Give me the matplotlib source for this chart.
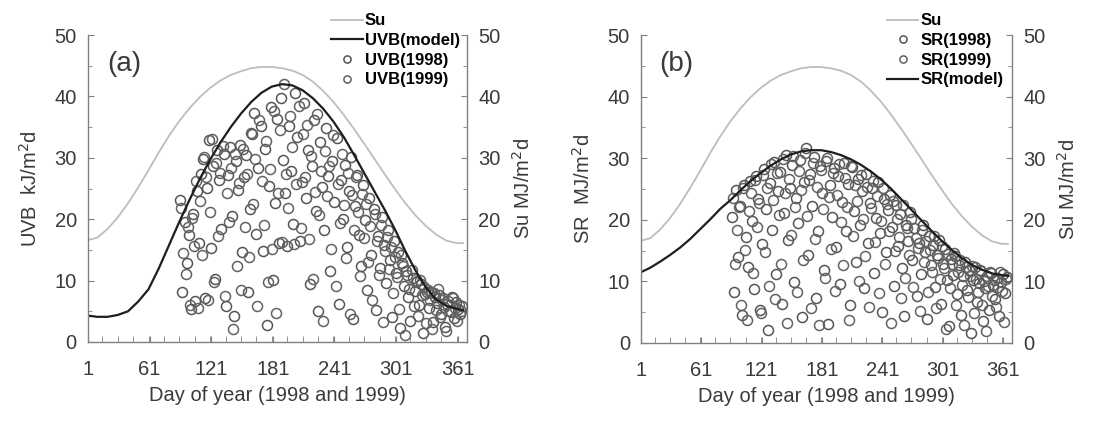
"""Daily UVB and SR against Su, 1998-1999"""
import numpy as np, matplotlib
matplotlib.use('Agg')
import matplotlib.pyplot as plt
from matplotlib.ticker import MultipleLocator
plt.rcParams.update({'font.family':['Liberation Sans','DejaVu Sans'],'font.size':13,'axes.linewidth':1.0})
BG='#FFFFFF'
INK='#3a3a3a'; SPINE='#808080'

# Su (MJ/m2d), shared by both panels
su_day=[1,10,20,30,40,50,60,70,80,90,100,110,120,130,140,150,160,170,180,190,200,210,220,230,240,250,260,270,280,290,300,310,320,330,340,350,360,366]
su_val=[16.6,17.0,18.4,20.3,22.6,25.2,28.0,30.9,33.6,36.0,38.1,39.9,41.4,42.6,43.5,44.1,44.6,44.8,44.8,44.6,44.2,43.5,42.4,40.9,39.1,37.0,34.7,32.3,29.8,27.3,24.9,22.6,20.6,18.9,17.5,16.5,16.1,16.1]

# UVB model (kJ/m2d)
uvb_mod_day=[1,10,20,30,40,50,60,70,80,90,100,110,120,130,140,150,160,170,180,190,200,210,220,230,240,250,260,270,280,290,300,310,320,330,340,350,360,366]
uvb_mod_val=[4.3,4.1,4.1,4.4,5.0,6.6,8.6,12.0,15.8,19.6,23.2,26.6,29.7,32.5,35.0,37.2,39.1,40.6,41.6,42.0,41.8,41.0,39.7,38.0,35.9,33.4,30.5,27.5,24.5,21.5,18.3,14.8,11.6,8.9,6.9,5.9,5.4,5.2]

uvb98_day=list(range(91,366,2))
uvb98=[23.1,8.1,19.5,12.8,17.5,5.4,20.8,6.6,24.6,16.2,
       27.3,29.8,7.2,25.1,32.9,15.3,28.6,10.2,31.2,26.4,
       18.4,30.7,5.8,27.2,31.8,20.5,4.3,29.4,24.8,32.1,
       14.6,26.9,30.4,8.1,21.7,33.8,37.3,17.6,28.3,35.2,
       14.8,31.5,2.8,25.4,38.2,10.1,22.6,36.4,16.1,39.7,
       29.6,24.2,15.6,35.1,27.8,19.3,40.6,33.4,16.4,26.1,
       38.9,23.5,31.2,9.4,28.7,36.2,21.4,5.1,32.6,25.3,
       18.2,34.8,27.1,11.6,29.5,22.8,33.2,6.2,26.4,20.1,
       28.9,15.4,24.6,30.1,3.8,22.1,27.2,17.5,12.3,25.6,
       19.8,8.4,23.5,14.2,21.6,5.2,17.3,12.1,20.4,15.8,
       9.6,18.2,13.4,4.1,16.5,11.2,14.6,2.3,12.8,9.1,
       11.5,7.4,3.5,10.4,8.3,9.9,6.1,9.5,1.4,7.8,
       8.2,5.6,8.1,3.2,7.3,6.4,7.6,4.5,7.1,2.4,
       6.2,5.1,7.4,3.9,6.5,5.3,4.6,5.8]
uvb99_day=list(range(92,365,2))
uvb99=[21.8,14.5,11.1,18.7,6.1,20.2,15.7,26.3,5.6,22.9,
       14.1,30.2,26.8,6.9,21.2,33.1,9.8,29.1,17.3,27.5,
       31.9,7.5,24.2,19.6,28.4,2.1,30.6,12.4,25.9,8.4,
       31.4,18.8,27.4,13.9,34.1,22.4,29.8,5.9,36.1,26.2,
       19.1,32.8,9.7,28.1,15.2,37.6,4.8,24.3,34.5,16.3,
       42.1,27.3,21.9,36.8,31.7,15.9,25.7,38.4,18.6,33.9,
       26.8,35.4,16.8,30.3,10.3,24.4,37.1,20.7,27.9,3.5,
       31.1,23.7,28.6,15.1,33.7,9.2,25.8,19.4,30.6,22.3,
       13.6,27.6,4.6,23.9,18.3,26.8,21.2,10.8,24.1,16.9,
       22.5,13.1,18.9,6.8,20.9,16.4,10.9,19.1,3.2,14.9,
       17.1,11.9,15.4,7.9,13.8,10.6,5.4,14.1,12.4,1.2,
       10.9,8.7,11.8,5.9,9.8,4.2,10.1,7.6,8.9,3.1,
       8.4,6.8,2.1,7.9,5.2,8.7,4.1,6.9,5.7,1.8,
       6.7,4.9,7.1,5.5,3.4,6.1,5.0]

# SR model (MJ/m2d)
sr_mod_day=[1,10,20,30,40,50,60,70,80,90,100,110,120,130,140,150,160,170,180,190,200,210,220,230,240,250,260,270,280,290,300,310,320,330,340,350,360,366]
sr_mod_val=[11.5,12.2,13.2,14.3,15.5,16.9,18.5,20.1,21.8,23.2,24.8,26.3,27.6,28.8,29.8,30.6,31.1,31.3,31.3,31.0,30.5,29.8,28.9,27.8,26.5,25.0,23.3,21.6,19.9,18.2,16.6,15.1,13.8,12.7,11.9,11.3,11.0,10.9]

sr98_day=list(range(91,366,2))
sr98=[20.5,8.3,24.8,13.9,22.3,4.6,25.6,17.2,12.4,26.3,
      19.8,8.8,27.1,23.4,5.4,16.1,28.2,21.7,2.1,25.9,
      18.3,29.4,11.2,24.7,27.8,6.4,21.1,30.6,16.7,25.2,
      28.9,9.9,23.6,19.4,29.7,4.2,26.1,31.6,14.3,27.5,
      22.2,30.2,7.3,18.1,28.8,24.3,11.8,29.6,3.1,25.7,
      20.4,28.4,15.6,27.1,9.5,22.9,29.3,18.2,25.8,6.2,
      28.5,21.4,13.1,26.7,19.1,24.6,8.9,27.4,16.2,22.8,
      25.2,11.4,20.3,26.1,17.9,5.1,23.3,14.7,21.6,24.1,
      18.8,9.3,22.4,15.8,20.9,12.1,4.4,19.2,16.5,21.3,
      13.4,18.6,7.6,16.3,11.2,19.1,14.8,3.9,17.4,12.6,
      15.9,9.1,14.3,16.8,6.4,12.9,15.2,10.3,2.8,13.6,
      11.1,14.2,7.9,12.7,4.6,10.8,13.1,8.6,11.9,1.6,
      10.2,12.4,6.7,9.8,11.7,3.6,8.9,10.9,5.3,11.3,
      9.4,7.2,10.6,4.3,9.9,11.2,8.1,10.7]
sr99_day=list(range(92,365,2))
sr99=[23.6,12.9,18.4,22.1,6.2,25.2,15.1,3.8,21.4,24.3,
      11.3,26.4,18.9,22.8,4.9,27.3,14.7,25.1,9.2,29.1,
      23.2,7.1,27.6,20.7,12.8,29.9,24.4,3.3,26.6,17.5,
      30.3,22.1,8.2,27.9,24.9,13.4,30.8,20.6,26.4,5.6,
      29.2,16.9,25.3,2.9,28.1,21.8,10.6,30.1,23.7,15.3,
      27.6,8.4,24.1,29.1,19.7,12.6,26.8,22.1,3.7,28.7,
      17.4,25.7,23.1,10.1,27.2,20.2,14.1,25.4,5.9,21.9,
      26.3,16.4,23.8,8.1,19.8,25.1,12.9,22.6,18.2,3.2,
      23.1,14.9,20.1,17.2,7.3,22.4,10.6,18.7,14.3,20.2,
      9.1,17.1,15.4,5.2,18.4,13.2,16.6,8.3,15.1,11.6,
      17.3,5.7,13.8,10.4,15.7,12.1,2.3,14.4,8.9,12.8,
      14.6,6.1,11.6,13.4,9.4,2.9,12.3,7.4,10.9,12.5,
      4.8,10.4,8.2,11.8,6.1,10.1,1.9,9.3,11.5,7.6,
      10.3,5.9,9.1,11.6,8.4,3.4,10.4]

xticks=[1,61,121,181,241,301,361]
FS=14.5

def style(ax):
    ax.set_xlim(1,370); ax.set_ylim(0,50)
    ax.spines['top'].set_visible(False)
    for s in ['left','right','bottom']: ax.spines[s].set_color(SPINE)
    ax.yaxis.set_major_locator(MultipleLocator(10))
    ax.yaxis.set_minor_locator(MultipleLocator(5))
    ax.tick_params(axis='y',which='both',direction='in',colors=SPINE,labelcolor=INK,labelsize=FS,pad=8)
    ax.tick_params(axis='y',which='major',length=4); ax.tick_params(axis='y',which='minor',length=3)

def panel(rect,tag,ylab,mod_d,mod_v,s98_d,s98,s99_d,s99,lab98,lab99,labmod,order,leg_x):
    ax=fig.add_axes(rect); ax.set_facecolor('none')
    ax2=ax.twinx()
    ax.set_zorder(2); ax2.set_zorder(1)
    style(ax); style(ax2)
    ax.spines['right'].set_visible(False); ax2.spines['left'].set_visible(False)
    ax2.spines['bottom'].set_visible(False)
    ax.set_xticks(xticks)
    ax.xaxis.set_minor_locator(MultipleLocator(15))
    ax.tick_params(axis='x',which='both',direction='in',colors=SPINE,labelcolor=INK,labelsize=FS,pad=13)
    ax.tick_params(axis='x',which='major',length=4); ax.tick_params(axis='x',which='minor',length=4)
    hs,=ax2.plot(su_day,su_val,color='#bdbdbd',lw=1.3,label='Su')
    mk=dict(ls='none',marker='o',ms=7.2,mfc='none',mew=1.1)
    h98,=ax.plot(s98_d,s98,mec='#555555',label=lab98,**mk)
    h99,=ax.plot(s99_d,s99,mec='#626262',label=lab99,**mk)
    hm,=ax.plot(mod_d,mod_v,color='#1e1e1e',lw=1.6,label=labmod)
    ax.set_xlabel('Day of year (1998 and 1999)',fontsize=FS,color=INK,labelpad=5)
    ax.set_ylabel(ylab,fontsize=FS,color=INK,labelpad=10)
    ax2.set_ylabel('Su MJ/m$^2$d',fontsize=FS,color=INK,labelpad=8)
    ax.text(0.05,0.905,tag,transform=ax.transAxes,fontsize=20,color=INK,va='center')
    hd={'Su':hs,'mod':hm,'98':h98,'99':h99}
    fig.legend([hd[k] for k in order],[hd[k].get_label() for k in order],loc='upper left',
               bbox_to_anchor=(leg_x,0.988),frameon=False,handlelength=1.9,
               handletextpad=0.12,labelspacing=0.28,borderpad=0,markerscale=0.72,
               prop={'weight':'bold','size':12})
    return ax

fig=plt.figure(figsize=(10.98,4.25),dpi=100,facecolor=BG)
panel([0.0801,0.1953,0.3452,0.7223],'(a)','UVB  kJ/m$^2$d',uvb_mod_day,uvb_mod_val,
      uvb98_day,uvb98,uvb99_day,uvb99,'UVB(1998)','UVB(1999)','UVB(model)',['Su','mod','98','99'],0.294)
panel([0.5838,0.1930,0.3379,0.7246],'(b)','SR  MJ/m$^2$d',sr_mod_day,sr_mod_val,
      sr98_day,sr98,sr99_day,sr99,'SR(1998)','SR(1999)','SR(model)',['Su','98','99','mod'],0.800)
fig.savefig('out.png',dpi=100,facecolor=BG)
